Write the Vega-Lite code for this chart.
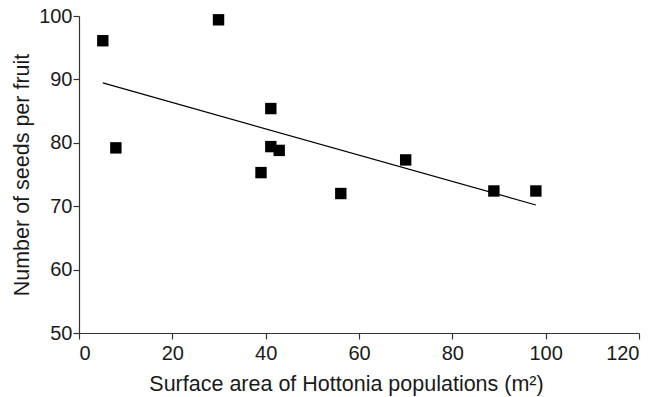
{
  "$schema": "https://vega.github.io/schema/vega-lite/v6.json",
  "width": 560,
  "height": 317,
  "autosize": {"type": "none"},
  "padding": {"left": 79, "top": 16, "right": 30, "bottom": 64},
  "background": "white",
  "config": {
    "view": {"stroke": null},
    "font": "Liberation Sans",
    "axis": {
      "grid": false,
      "domainColor": "#333333",
      "tickColor": "#333333",
      "tickSize": 6,
      "domainWidth": 1.2,
      "tickWidth": 1.2,
      "labelFont": "Liberation Sans",
      "labelFontSize": 20,
      "labelColor": "#1a1a1a",
      "titleFont": "Liberation Sans",
      "titleFontSize": 21.5,
      "titleFontWeight": "normal",
      "titleColor": "#1a1a1a"
    }
  },
  "data": {
    "values": [
      {"area": 5.1, "seeds": 96.1},
      {"area": 29.9, "seeds": 99.4},
      {"area": 7.9, "seeds": 79.2},
      {"area": 41.1, "seeds": 85.4},
      {"area": 41.1, "seeds": 79.4},
      {"area": 42.9, "seeds": 78.8},
      {"area": 39.0, "seeds": 75.3},
      {"area": 56.1, "seeds": 72.0},
      {"area": 70.0, "seeds": 77.3},
      {"area": 88.9, "seeds": 72.4},
      {"area": 97.9, "seeds": 72.4}
    ]
  },
  "layer": [
    {
      "mark": {"type": "point", "shape": "square", "filled": true, "size": 130, "color": "black", "opacity": 1},
      "encoding": {
        "x": {
          "field": "area", "type": "quantitative",
          "scale": {"domain": [0, 120], "nice": false, "zero": false},
          "axis": {"values": [0, 20, 40, 60, 80, 100, 120], "title": "Surface area of Hottonia populations (m²)", "labelPadding": 4, "titlePadding": 10, "titleX": 267}
        },
        "y": {
          "field": "seeds", "type": "quantitative",
          "scale": {"domain": [50, 100], "nice": false, "zero": false},
          "axis": {"values": [50, 60, 70, 80, 90, 100], "title": "Number of seeds per fruit", "labelPadding": 1, "titlePadding": 5}
        }
      }
    },
    {
      "transform": [{"regression": "seeds", "on": "area", "extent": [5.1, 97.9]}],
      "mark": {"type": "line", "color": "black", "strokeWidth": 1.2},
      "encoding": {
        "x": {"field": "area", "type": "quantitative"},
        "y": {"field": "seeds", "type": "quantitative"}
      }
    }
  ]
}
